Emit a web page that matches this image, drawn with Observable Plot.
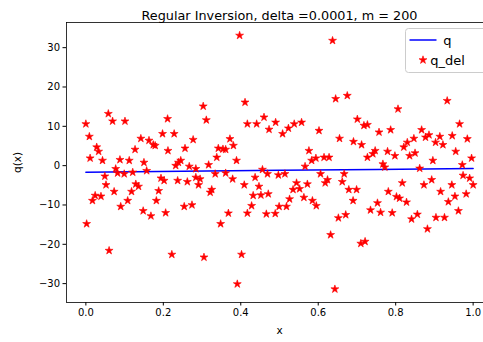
<!DOCTYPE html>
<html><head><meta charset="utf-8">
<script src="https://cdn.jsdelivr.net/npm/d3@7"></script>
<script src="https://cdn.jsdelivr.net/npm/@observablehq/plot@0.6"></script>
<style>
html,body{margin:0;padding:0;background:#fff;overflow:hidden;width:483px;height:342px}
#chart{position:relative;width:483px;height:342px;overflow:hidden}
#chart svg{max-width:none !important}
</style></head><body><div id="chart"></div>
<script>
const title = "Regular Inversion, delta =0.0001, m = 200";
const xLabel = "x";
const yLabel = "q(x)";
const seriesNames = ["q", "q_del"];
const xTicks = [0, 0.2, 0.4, 0.6, 0.8, 1.0];
const yTicks = [-30, -20, -10, 0, 10, 20, 30];
const qX = [0, 0.25, 0.5, 0.75, 1.0];
const qY = [-1.7, -1.45, -1.2, -0.95, -0.7];
const qdelX = [0.000,0.002,0.009,0.011,0.017,0.024,0.028,0.033,0.039,0.043,0.049,0.052,0.058,0.060,0.069,0.073,0.077,0.082,0.088,0.090,0.099,0.101,0.108,0.112,0.118,0.121,0.127,0.129,0.136,0.142,0.148,0.150,0.157,0.163,0.168,0.174,0.179,0.182,0.188,0.194,0.198,0.202,0.206,0.211,0.212,0.222,
0.228,0.232,0.237,0.239,0.245,0.254,0.256,0.262,0.267,0.274,0.277,0.284,0.284,0.291,0.295,0.303,0.305,0.311,0.317,0.321,0.325,0.334,0.338,0.342,0.348,0.354,0.361,0.361,0.368,0.372,0.379,0.381,0.389,0.391,0.397,0.402,0.409,0.411,0.417,0.417,0.428,0.432,0.437,0.441,0.447,0.452,0.456,0.460,0.466,0.469,0.471,0.473,
0.489,0.490,0.497,0.499,0.508,0.514,0.518,0.523,0.526,0.535,0.538,0.544,0.552,0.557,0.563,0.566,0.572,0.576,0.583,0.585,0.594,0.595,0.602,0.606,0.615,0.618,0.624,0.628,0.632,0.637,0.643,0.645,0.652,0.655,0.662,0.667,0.671,0.675,0.679,0.690,0.691,0.699,0.701,0.710,0.712,0.718,0.721,0.727,0.727,0.735,
0.741,0.747,0.753,0.757,0.761,0.767,0.772,0.779,0.781,0.787,0.791,0.798,0.802,0.806,0.810,0.817,0.821,0.828,0.830,0.836,0.841,0.847,0.850,0.856,0.862,0.867,0.873,0.877,0.882,0.886,0.893,0.896,0.903,0.904,0.914,0.916,0.922,0.926,0.933,0.936,0.945,0.946,0.953,0.955,0.962,0.965,0.972,0.974,0.982,0.985,0.991,0.996,1.000];
const qdelY = [10.6,-14.8,7.4,1.9,-8.9,-7.6,4.7,3.6,-7.8,1.3,-2.7,-4.9,13.2,-21.6,11.3,-6.6,-0.8,-1.9,1.5,-10.4,-2.1,11.3,-8.9,1.3,-6.6,-1.7,4.1,-4.7,-5.3,6.9,-11.5,0.8,-1.3,6.4,-12.8,5.3,5.1,-8.9,-6.4,-3.2,8.1,-3.8,-12.0,11.9,3.8,-22.6,
8.1,0.0,-3.8,0.8,1.3,-10.4,4.4,-4.1,-0.2,-10.0,6.6,-0.8,-3.0,-4.9,-3.4,15.1,-23.3,11.6,0.2,-6.8,-6.1,-2.1,2.1,4.4,-14.8,4.2,4.1,-1.9,-12.1,6.8,-3.4,5.1,1.3,-30.1,33.1,-22.6,-4.9,16.1,10.6,-12.1,-10.2,-7.6,-3.0,10.6,-5.3,-7.5,-1.0,12.3,-12.3,-2.1,-7.2,9.2,
-12.2,11.0,-2.4,-10.4,8.1,-2.1,-10.4,9.5,-8.5,-6.1,10.6,-4.4,-5.9,11.0,-8.1,-0.2,-4.7,3.8,1.3,-8.9,1.9,-10.2,8.9,-2.1,2.1,-4.4,-3.6,2.1,-17.6,31.8,-31.4,17.0,-13.3,6.9,-4.1,-2.1,-12.5,17.8,-6.1,-8.9,6.1,-6.1,11.8,-19.8,5.3,10.2,-19.3,10.4,2.1,-11.3,
3.0,3.8,-9.5,8.5,-11.9,0.4,-0.4,3.6,-6.6,9.1,-12.0,2.5,-7.9,14.4,-8.3,-4.4,4.7,-9.3,5.9,2.5,-13.6,6.9,3.2,-12.4,-0.7,9.1,-4.9,7.2,-16.1,7.8,-3.6,1.3,5.9,-13.2,7.4,-6.6,5.3,-13.2,16.5,-9.2,-4.9,7.6,-7.8,3.6,-11.5,10.6,0.2,-2.5,-7.2,6.8,-3.2,1.9,-4.9];

const qData = qX.map((x, i) => ({x, y: qY[i]}));
const qdelData = qdelX.map((x, i) => ({x, y: qdelY[i]}));

const font = "'DejaVu Sans', sans-serif";
const starR = 2.5;
const plot = Plot.plot({
  width: 500, height: 342,
  marginLeft: 66, marginRight: 8, marginTop: 22, marginBottom: 40,
  style: {fontFamily: font, fontSize: "10px", background: "#fff", color: "#000", overflow: "visible", maxWidth: "none"},
  x: {domain: [-0.05, 1.05]},
  y: {domain: [-34.8, 36.4]},
  marks: [
    Plot.line(qData, {x: "x", y: "y", stroke: "#0000ff", strokeWidth: 1.5}),
    Plot.dot(qdelData, {x: "x", y: "y", symbol: "star", r: starR, fill: "#ff0000", stroke: "#ff0000", strokeWidth: 0.6}),
    Plot.frame({stroke: "#000", strokeWidth: 0.8}),
    Plot.axisX({ticks: xTicks, tickFormat: d3.format(".1f"), tickSize: 3.5, tickPadding: 3, label: null, fontSize: 10}),
    Plot.axisY({ticks: yTicks, tickFormat: d => d < 0 ? "\u2212" + Math.abs(d) : String(d), tickSize: 3.5, tickPadding: 3, label: null, fontSize: 10}),
    Plot.text([xLabel], {text: d => d, frameAnchor: "bottom", dy: 31, fontSize: 10.5}),
    Plot.text([yLabel], {text: d => d, frameAnchor: "left", dx: -49, rotate: -90, textAnchor: "middle", fontSize: 10.5}),
    Plot.text([title], {text: d => d, frameAnchor: "top", dy: -12, textAnchor: "middle", fontSize: 12.8})
  ]
});
document.getElementById("chart").appendChild(plot);

// legend
const svg = d3.select(plot);
const lg = svg.append("g").attr("font-family", font).attr("font-size", 13);
lg.append("rect").attr("x", 405.5).attr("y", 28.5).attr("width", 82).attr("height", 44).attr("rx", 3)
  .attr("fill", "#fff").attr("fill-opacity", 0.8).attr("stroke", "#cccccc");
lg.append("line").attr("x1", 409.5).attr("x2", 436.5).attr("y1", 40).attr("y2", 40)
  .attr("stroke", "#0000ff").attr("stroke-width", 1.5);
lg.append("path").attr("d", d3.symbol(d3.symbolStar, starR * starR * Math.PI)())
  .attr("transform", "translate(423,60)").attr("fill", "#ff0000").attr("stroke", "#ff0000").attr("stroke-width", 0.6);
lg.append("text").attr("x", 447.5).attr("y", 40).attr("dy", "0.35em").text(seriesNames[0]);
lg.append("text").attr("x", 447.5).attr("y", 60).attr("dy", "0.35em").text(seriesNames[1]);
</script></body></html>
